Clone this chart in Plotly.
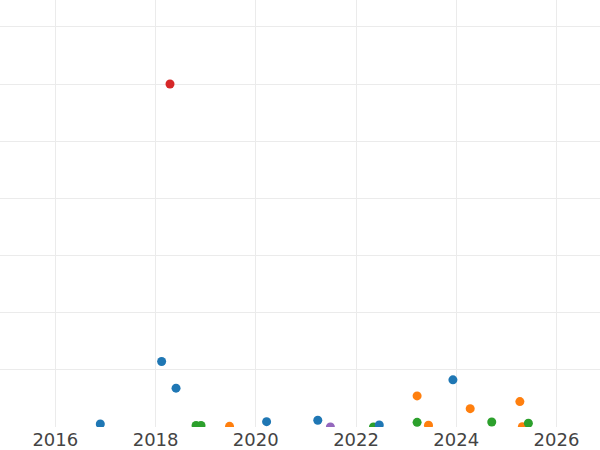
import plotly.graph_objects as go

# Series data (dates, values)
orange_dates = ["2019-06-24", "2023-03-22", "2023-06-13", "2024-04-12", "2025-04-09", "2025-04-27"]
orange_vals = [12, 544, 30, 321, 444, 5]

green_dates = ["2018-10-23", "2018-11-28", "2022-05-08", "2023-03-22", "2024-09-16", "2025-06-10"]
green_vals = [26, 26, 0, 82, 88, 65]

blue_dates = ["2016-11-24", "2018-02-14", "2018-05-30", "2020-03-20", "2021-03-28", "2022-06-19", "2023-12-08"]
blue_vals = [53, 1146, 679, 93, 118, 35, 825]

red_dates = ["2018-04-16"]
red_vals = [6000]

purple_dates = ["2021-06-28"]
purple_vals = [2]

x_tickvals = ["2016-01-01", "2018-01-01", "2020-01-01", "2022-01-01", "2024-01-01", "2026-01-01"]
x_ticktext = ["2016", "2018", "2020", "2022", "2024", "2026"]

series = [
    (orange_dates, orange_vals, "#ff7f0e"),
    (green_dates, green_vals, "#2ca02c"),
    (blue_dates, blue_vals, "#1f77b4"),
    (red_dates, red_vals, "#d62728"),
    (purple_dates, purple_vals, "#9467bd"),
]

fig = go.Figure()
for d, v, c in series:
    fig.add_trace(go.Scatter(x=d, y=v, mode="markers",
                             marker=dict(color=c, size=9),
                             showlegend=False))

fig.update_layout(
    width=600, height=450,
    margin=dict(l=0, r=0, t=0, b=23),
    paper_bgcolor="white", plot_bgcolor="white",
    font=dict(family="DejaVu Sans", size=18, color="#444"),
    xaxis=dict(range=["2014-11-24", "2026-11-14"], tickvals=x_tickvals, ticktext=x_ticktext,
               showgrid=True, gridcolor="#ebebeb", gridwidth=1, zeroline=False,
               showline=False, ticks="", automargin=False),
    yaxis=dict(range=[0, 7470], dtick=1000, showticklabels=False,
               showgrid=True, gridcolor="#ebebeb", gridwidth=1, zeroline=False,
               showline=False, automargin=False),
)

fig.write_html("out.html", config={"displayModeBar": False},
               post_script="document.body.style.margin='0';")
